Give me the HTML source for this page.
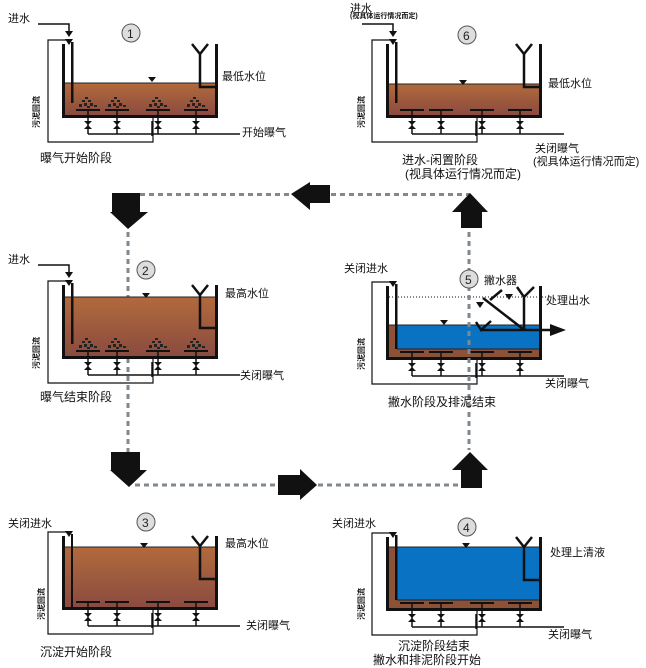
<!DOCTYPE html>
<html><head><meta charset="utf-8">
<style>
html,body{margin:0;padding:0;background:#fff;}
svg{display:block;}
text{font-family:"Liberation Sans","Noto Sans CJK SC",sans-serif;fill:#111;}
.t{font-size:11px;}
.s{font-size:8px;font-weight:bold;}
.n{font-size:12px;fill:#222;}
</style></head><body>
<svg width="646" height="668" viewBox="0 0 646 668" xmlns="http://www.w3.org/2000/svg">
<defs>
<linearGradient id="br" x1="0" y1="0" x2="0" y2="1">
<stop offset="0" stop-color="#b26a3c"/><stop offset="1" stop-color="#8a4b40"/>
</linearGradient>
<g id="bub">
<rect x="-3" y="-21" width="3" height="2" fill="#222"/>
<rect x="-6" y="-18" width="3" height="2" fill="#222"/>
<rect x="0" y="-18" width="3" height="2" fill="#222"/>
<rect x="-9" y="-14" width="3" height="3" fill="#222"/>
<rect x="-4" y="-15" width="3" height="3" fill="#222"/>
<rect x="2" y="-15" width="3" height="3" fill="#222"/>
<rect x="6" y="-13" width="3" height="2" fill="#222"/>
<rect x="-1" y="-12" width="3" height="2" fill="#222"/>
</g>
<g id="valve">
<line x1="0" y1="-8" x2="0" y2="16" stroke="#111" stroke-width="1.5"/>
<polygon points="-4,3 4,3 -4,11 4,11" fill="#111"/>
<line x1="-12" y1="-8" x2="12" y2="-8" stroke="#111" stroke-width="2"/>
</g>
<!-- common frame: walls, diffusers, valves, air line, return line -->
<g id="frame">
<rect x="0" y="-74" width="3" height="74" fill="#111"/>
<rect x="153" y="-74" width="3" height="74" fill="#111"/>
<rect x="0" y="-3" width="156" height="3" fill="#111"/>
<use href="#valve" x="26"/><use href="#valve" x="55"/><use href="#valve" x="96"/><use href="#valve" x="134"/>
<line x1="26" y1="16" x2="178" y2="16" stroke="#111" stroke-width="1.5"/>
<polyline points="6,-78 -14,-78 -14,24 91,24 91,0" fill="none" stroke="#111" stroke-width="1.2"/>
<polygon points="3,-79 11,-79 7,-73" fill="#111"/>
<line x1="90" y1="3" x2="90" y2="18" stroke="#111" stroke-width="1.5"/>
</g>
<g id="weir">
<polyline points="130,-74 138,-64 146,-74" fill="none" stroke="#111" stroke-width="2.5"/>
<polyline points="138,-64 138,-31 154,-31" fill="none" stroke="#111" stroke-width="2.5"/>
</g>
<polygon id="lv" points="-4,0 4,0 0,5" fill="#111"/>
<g id="feed">
<polyline points="-24,-94 7,-94 7,-86" fill="none" stroke="#111" stroke-width="1.5"/>
<polygon points="3,-87 11,-87 7,-81" fill="#111"/>
</g>
</defs>

<!-- dashed connectors -->
<g stroke="#808890" stroke-width="3" stroke-dasharray="5,4" fill="none">
<line x1="140" y1="194.5" x2="290" y2="194.5"/>
<line x1="331" y1="194.5" x2="470" y2="194.5"/>
<line x1="128" y1="232" x2="128" y2="452"/>
<line x1="469" y1="232" x2="469" y2="450"/>
<line x1="135" y1="485" x2="278" y2="485"/>
<line x1="318" y1="485" x2="460" y2="485"/>
</g>
<!-- block arrows -->
<g fill="#111">
<polygon points="112,193 140,193 140,212 148,212 128,229 110,212 112,212"/>
<polygon points="291,194 310,182 310,185 330,185 330,203 310,203 310,210"/>
<polygon points="470,193 488,212 482,212 482,228 461,228 461,212 452,212"/>
<polygon points="111,452 140,452 140,470 147,470 129,487 110,470 111,470"/>
<polygon points="278,475 300,475 300,469 317,485 300,500 300,495 278,495"/>
<polygon points="470,452 488,470 482,470 482,488 461,488 461,470 452,470"/>
</g>

<!-- TANK 1 -->
<g transform="translate(62,118)">
<rect x="3" y="-35" width="150" height="32" fill="url(#br)"/>
<line x1="3" y1="-35" x2="153" y2="-35" stroke="#222" stroke-width="1"/>
<rect x="9" y="-76" width="2.5" height="61" fill="#111"/>
<use href="#weir"/><use href="#lv" x="90" y="-41"/>
<use href="#bub" x="26"/><use href="#bub" x="55"/><use href="#bub" x="96"/><use href="#bub" x="134"/>
<use href="#frame"/><use href="#feed"/>
<circle cx="69" cy="-85" r="9" fill="#ddd" stroke="#555"/><text class="n" x="65" y="-80">1</text>
</g>
<text class="t" x="8" y="22">进水</text>
<text class="t" x="222" y="80">最低水位</text>
<text class="t" x="242" y="136">开始曝气</text>
<text class="t" x="40" y="162" style="font-size:12px">曝气开始阶段</text>
<text class="s" transform="translate(39,128) rotate(-90)">污泥回流</text>

<!-- TANK 2 -->
<g transform="translate(62,359)">
<rect x="3" y="-62" width="150" height="59" fill="url(#br)"/>
<line x1="3" y1="-62" x2="153" y2="-62" stroke="#222" stroke-width="1"/>
<rect x="9" y="-76" width="2.5" height="61" fill="#111"/>
<use href="#weir"/><use href="#lv" x="84" y="-66"/>
<use href="#bub" x="26"/><use href="#bub" x="55"/><use href="#bub" x="96"/><use href="#bub" x="134"/>
<use href="#frame"/><use href="#feed"/>
<circle cx="84" cy="-89" r="9" fill="#ddd" stroke="#555"/><text class="n" x="80" y="-84">2</text>
</g>
<text class="t" x="8" y="263">进水</text>
<text class="t" x="225" y="297">最高水位</text>
<text class="t" x="240" y="379">关闭曝气</text>
<text class="t" x="40" y="401" style="font-size:12px">曝气结束阶段</text>
<text class="s" transform="translate(39,369) rotate(-90)">污泥回流</text>

<!-- TANK 3 -->
<g transform="translate(62,610)">
<rect x="3" y="-63" width="150" height="60" fill="url(#br)"/>
<line x1="3" y1="-63" x2="153" y2="-63" stroke="#222" stroke-width="1"/>
<rect x="9" y="-76" width="2" height="73" fill="#111"/>
<use href="#weir"/><use href="#lv" x="82" y="-67"/>
<use href="#frame"/>
<circle cx="84" cy="-88" r="9" fill="#ddd" stroke="#555"/><text class="n" x="80" y="-83">3</text>
</g>
<text class="t" x="8" y="527">关闭进水</text>
<text class="t" x="225" y="547">最高水位</text>
<text class="t" x="246" y="629">关闭曝气</text>
<text class="t" x="40" y="656" style="font-size:12px">沉淀开始阶段</text>
<text class="s" transform="translate(44,620) rotate(-90)">污泥回流</text>

<!-- TANK 4 -->
<g transform="translate(386,611)">
<rect x="3" y="-64" width="150" height="61" fill="#8c5238"/>
<rect x="11" y="-64" width="142" height="53" fill="#0a72c2"/>
<line x1="3" y1="-64" x2="153" y2="-64" stroke="#222" stroke-width="1"/>
<line x1="11" y1="-11" x2="153" y2="-11" stroke="#222" stroke-width="1"/>
<rect x="9" y="-76" width="2.5" height="65" fill="#111"/>
<use href="#weir"/><use href="#lv" x="80" y="-68"/>
<use href="#frame"/>
<circle cx="81" cy="-84" r="9" fill="#ddd" stroke="#555"/><text class="n" x="77" y="-79">4</text>
</g>
<text class="t" x="332" y="527">关闭进水</text>
<text class="t" x="550" y="556">处理上清液</text>
<text class="t" x="548" y="638">关闭曝气</text>
<text class="t" x="398" y="650" style="font-size:12px">沉淀阶段结束</text>
<text class="t" x="373" y="664" style="font-size:12px">撇水和排泥阶段开始</text>
<text class="s" transform="translate(364,620) rotate(-90)">污泥回流</text>

<!-- TANK 5 -->
<g transform="translate(386,360)">
<rect x="3" y="-35" width="150" height="32" fill="#8c5238"/>
<rect x="11" y="-35" width="142" height="24" fill="#0a72c2"/>
<line x1="3" y1="-35" x2="153" y2="-35" stroke="#222" stroke-width="1"/>
<line x1="11" y1="-11" x2="153" y2="-11" stroke="#222" stroke-width="1"/>
<line x1="3" y1="-63" x2="160" y2="-63" stroke="#111" stroke-width="1" stroke-dasharray="1,2"/>
<rect x="9" y="-76" width="2.5" height="65" fill="#111"/>
<use href="#lv" x="58" y="-40"/>
<use href="#frame"/>
</g>
<line x1="469" y1="232" x2="469" y2="450" stroke="#808890" stroke-width="3" stroke-dasharray="5,4"/>
<g stroke="#111" stroke-width="2.5" fill="none">
<polyline points="517,287 524,297 534,287"/>
<line x1="524" y1="297" x2="524" y2="330"/>
<line x1="483" y1="298" x2="523" y2="329"/>
<line x1="490" y1="300" x2="502" y2="290"/>
<polyline points="476,322 481,330 491,321"/>
<line x1="481" y1="330" x2="552" y2="330"/>
</g>
<polygon points="550,324 566,330 550,336" fill="#111"/>
<polygon points="476,302 484,302 480,308" fill="#111"/>
<polygon points="505,294 513,294 509,300" fill="#111"/>
<circle cx="469" cy="279" r="9" fill="#ddd" stroke="#555"/><text class="n" x="465" y="284">5</text>
<text class="t" x="484" y="284">撇水器</text>
<text class="t" x="546" y="304">处理出水</text>
<text class="t" x="344" y="272">关闭进水</text>
<text class="t" x="545" y="387">关闭曝气</text>
<text class="t" x="388" y="406" style="font-size:12px">撇水阶段及排泥结束</text>
<text class="s" transform="translate(364,370) rotate(-90)">污泥回流</text>

<!-- TANK 6 -->
<g transform="translate(386,118)">
<rect x="3" y="-34" width="150" height="31" fill="url(#br)"/>
<line x1="3" y1="-34" x2="153" y2="-34" stroke="#222" stroke-width="1"/>
<rect x="9" y="-76" width="2.5" height="61" fill="#111"/>
<use href="#weir"/><use href="#lv" x="77" y="-38"/>
<use href="#frame"/><use href="#feed"/>
<circle cx="81" cy="-83" r="9" fill="#ddd" stroke="#555"/><text class="n" x="77" y="-78">6</text>
</g>
<text class="t" x="350" y="12">进水</text>
<text class="s" x="350" y="18" style="font-size:7px">(视具体运行情况而定)</text>
<text class="t" x="548" y="87">最低水位</text>
<text class="t" x="535" y="152">关闭曝气</text>
<text class="t" x="533" y="165">(视具体运行情况而定)</text>
<text class="t" x="402" y="164" style="font-size:12px">进水-闲置阶段</text>
<text class="t" x="405" y="178" style="font-size:12px">(视具体运行情况而定)</text>
<text class="s" transform="translate(364,128) rotate(-90)">污泥回流</text>
</svg>
</body></html>
